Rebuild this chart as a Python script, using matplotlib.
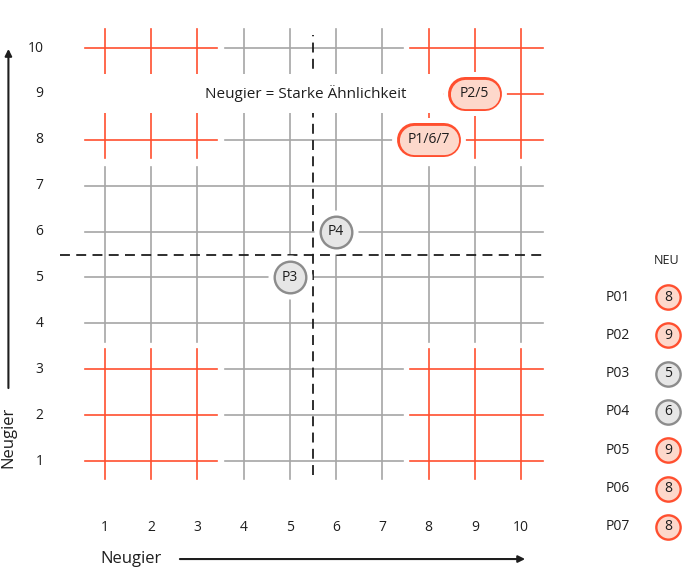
import matplotlib.pyplot as plt
from matplotlib.patches import Rectangle

plt.rcParams['font.family'] = ['Open Sans', 'DejaVu Sans']

# data
participants = ["P01", "P02", "P03", "P04", "P05", "P06", "P07"]
neu = [8, 9, 5, 6, 9, 8, 8]
ticks = [1, 2, 3, 4, 5, 6, 7, 8, 9, 10]
x_label = "Neugier"
y_label = "Neugier"
note = "Neugier = Starke Ähnlichkeit"
legend_title = "NEU"
threshold = 5.5

RED = "#ff4f2f"
RED_FILL = "#fdd8cb"
GRAY = "#a6a6a6"
GRAY_EDGE = "#8c8c8c"
GRAY_FILL = "#e6e6e6"
DARK = "#1e1e1e"

PX_X = 46.22   # pixels per unit along x
PT = 0.72      # points per pixel at 100 dpi

fig = plt.figure(figsize=(6.85, 5.69), dpi=100)
ax = fig.add_axes([0, 0, 1, 1])
ax.set_xlim(-1.272, 13.549)
ax.set_ylim(-1.353, 11.046)
ax.axis('off')

# grid made of 3 blocks per direction
hblocks = {"low": (0.57, 3.43), "mid": (3.6, 7.44), "high": (7.6, 10.47)}
vblocks = {"low": (0.61, 3.44), "mid": (3.59, 7.41), "high": (7.6, 10.41)}

def zone(v):
    if v <= 3:
        return "low"
    if v <= 7:
        return "mid"
    return "high"

lw = 1.2
for t in ticks:
    if zone(t) == "mid":
        ax.plot([hblocks["low"][0], hblocks["high"][1]], [t, t], color=GRAY, lw=lw, zorder=1)
        ax.plot([t, t], [vblocks["low"][0], vblocks["high"][1]], color=GRAY, lw=lw, zorder=1)
    else:
        for z in hblocks:
            c = GRAY if z == "mid" else RED
            ax.plot(hblocks[z], [t, t], color=c, lw=lw, zorder=1 if c == GRAY else 2)
            ax.plot([t, t], vblocks[z], color=c, lw=lw, zorder=1 if c == GRAY else 2)

# threshold lines
ax.plot([threshold, threshold], [0.69, 10.28], color=DARK, lw=1.3, ls=(0, (5.5, 3.5)), zorder=3)
ax.plot([0.03, 10.48], [threshold, threshold], color=DARK, lw=1.3, ls=(0, (5.5, 3.5)), zorder=3)

# note with white box
ax.add_patch(Rectangle((0.27, 8.58), 8.04, 0.85, fc="white", ec="none", zorder=4))
ax.text(5.35, 9, note, ha='center', va='center', fontsize=11, color=DARK, zorder=5)

# group participants by value
groups = {}
for p, v in zip(participants, neu):
    groups.setdefault(v, []).append(str(int(p[1:])))

h_px = 34      # bubble outer height in pixels
edge_px = 2.4
for v, nums in groups.items():
    label = "P" + "/".join(nums)
    red = v > 7
    fc = RED_FILL if red else GRAY_FILL
    ec = RED if red else GRAY_EDGE
    if len(nums) == 1:
        ax.plot(v, v, 'o', ms=(h_px + 10) * PT, mfc="white", mec="none", zorder=6)
        ax.plot(v, v, 'o', ms=(h_px - edge_px) * PT, mfc=fc, mec=ec, mew=edge_px * PT, zorder=7)
    else:
        half = 5 * len(label) / PX_X / 2
        xs = [v - half, v + half]
        for color, width, zo in [("white", h_px + 10, 6), (ec, h_px, 7), (fc, h_px - 2 * edge_px, 7.5)]:
            ax.plot(xs, [v, v], color=color, lw=width * PT, solid_capstyle='round', zorder=zo)
    ax.text(v, v, label, ha='center', va='center', fontsize=10, color=DARK, zorder=8)

# tick labels
for t in ticks:
    ax.text(-0.33, t, str(t), ha='right', va='center', fontsize=10, color=DARK)
    ax.text(t, -0.438, str(t), ha='center', va='center', fontsize=10, color=DARK)

# axis labels and arrows
ax.text(1.56, -1.136, x_label, ha='center', va='center', fontsize=12, color=DARK)
ax.text(-1.09, 1.52, y_label, ha='center', va='center', rotation=90, fontsize=12, color=DARK)
ax.annotate("", xy=(10.09, -1.136), xytext=(2.62, -1.136),
            arrowprops=dict(arrowstyle='-|>', lw=1.5, color=DARK, mutation_scale=10,
                            shrinkA=0, shrinkB=0))
ax.annotate("", xy=(-1.09, 9.98), xytext=(-1.09, 2.59),
            arrowprops=dict(arrowstyle='-|>', lw=1.5, color=DARK, mutation_scale=10,
                            shrinkA=0, shrinkB=0))

# legend
ax.text(13.16, 5.36, legend_title, ha='center', va='center', fontsize=9, color=DARK)
for i, (p, v) in enumerate(zip(participants, neu)):
    y = 4.574 - 0.8346 * i
    red = v > 7
    ax.text(12.1, y, p, ha='center', va='center', fontsize=10, color=DARK)
    ax.plot(13.18, y, 'o', ms=17.5, mfc=RED_FILL if red else GRAY_FILL,
            mec=RED if red else GRAY_EDGE, mew=1.7)
    ax.text(13.18, y, str(v), ha='center', va='center', fontsize=10, color=DARK)

fig.savefig("out.png", dpi=100)
